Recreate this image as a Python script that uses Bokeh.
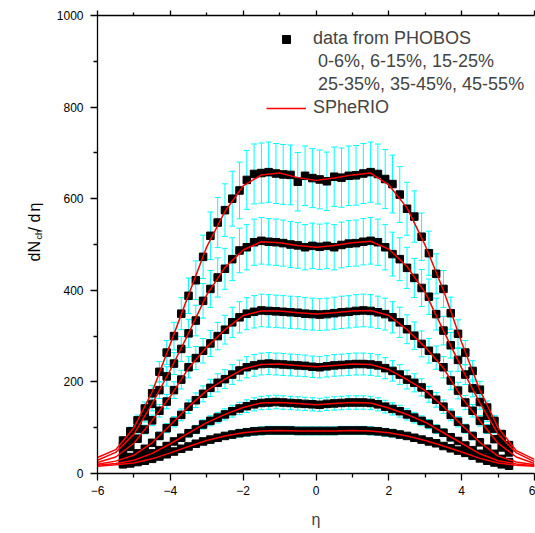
import numpy as np
from bokeh.plotting import figure
from bokeh.layouts import row
from bokeh.models import (ColumnDataSource, Whisker, TeeHead, LinearAxis, Legend,
                          LegendItem, Label, FixedTicker, Range1d, CustomJSTickFormatter)
from bokeh.embed import file_html
from bokeh.resources import INLINE

# ---------------- data ----------------
eta = [-5.3, -5.1, -4.9, -4.7, -4.5, -4.3, -4.1, -3.9, -3.7, -3.5, -3.3, -3.1, -2.9, -2.7,
       -2.5, -2.3, -2.1, -1.9, -1.7, -1.5, -1.3, -1.1, -0.9, -0.7, -0.5, -0.3, -0.1,
       0.1, 0.3, 0.5, 0.7, 0.9, 1.1, 1.3, 1.5, 1.7, 1.9, 2.1, 2.3, 2.5, 2.7,
       2.9, 3.1, 3.3, 3.5, 3.7, 3.9, 4.1, 4.3, 4.5, 4.7, 4.9, 5.1, 5.3]

phobos_0_6 = [72, 92, 116, 142, 175, 222, 264, 300, 349, 388, 422, 473, 519, 548,
              575, 600, 618, 641, 654, 656, 658, 655, 653, 652, 637, 650, 645,
              642, 638, 648, 646, 650, 651, 655, 658, 654, 643, 632, 609, 578, 561,
              517, 481, 436, 403, 350, 305, 264, 224, 183, 144, 115, 86, 62]
phobos_6_15 = [60, 76, 98, 125, 152, 182, 212, 240, 272, 306, 334, 377, 403, 428,
               447, 468, 487, 494, 505, 508, 506, 505, 503, 500, 498, 494, 497,
               495, 497, 494, 499, 502, 503, 506, 508, 505, 494, 479, 468, 449, 427,
               405, 386, 348, 312, 280, 248, 216, 186, 156, 126, 98, 74, 54]
phobos_15_25 = [46, 58, 76, 96, 116, 137, 157, 182, 205, 232, 252, 268, 284, 300,
                314, 330, 341, 349, 353, 356, 355, 354, 353, 352, 351, 349, 348,
                347, 348, 350, 352, 353, 355, 356, 355, 352, 348, 341, 330, 315, 301,
                283, 268, 253, 232, 203, 181, 155, 137, 115, 97, 75, 57, 46]
phobos_25_35 = [31, 36, 44, 54, 67, 82, 99, 113, 128, 146, 160, 174, 187, 198,
                206, 216, 225, 232, 236, 239, 240, 239, 238, 237, 236, 235, 233,
                232, 234, 236, 237, 238, 239, 239, 238, 236, 230, 224, 216, 205, 198,
                188, 173, 161, 146, 128, 113, 98, 82, 68, 54, 43, 32, 25]
phobos_35_45 = [24, 27, 31, 37, 44, 51, 60, 70, 78, 88, 96, 107, 115, 122,
                129, 136, 142, 147, 151, 154, 155, 156, 155, 154, 153, 152, 151,
                150, 152, 153, 154, 155, 155, 155, 154, 151, 146, 141, 136, 129, 122,
                115, 108, 97, 89, 79, 71, 61, 51, 43, 36, 30, 25, 22]
phobos_45_55 = [20, 22, 25, 28, 32, 37, 42, 48, 54, 59, 65, 70, 74, 78,
                82, 85, 88, 90, 92, 93, 94, 94, 94, 94, 93, 93, 93,
                93, 93, 93, 94, 94, 94, 94, 93, 92, 90, 88, 85, 82, 78,
                74, 70, 66, 60, 55, 50, 45, 39, 33, 28, 24, 20, 17]

# relative size of the (cyan) error bars of each centrality class
err_frac = [0.10, 0.10, 0.10, 0.10, 0.095, 0.095]

model_eta = [-6.0, -5.5, -5.0, -4.5, -4.0, -3.5, -3.0, -2.5, -2.0, -1.5, -1.0, -0.5, 0.0,
             0.5, 1.0, 1.5, 2.0, 2.5, 3.0, 3.5, 4.0, 4.5, 5.0, 5.5, 6.0]
spherio_0_6 = [35, 52, 100, 178, 283, 390, 495, 572, 628, 652, 656, 646, 640,
               645, 652, 656, 630, 580, 498, 400, 286, 182, 100, 50, 31]
spherio_6_15 = [29, 46, 86, 152, 226, 306, 390, 450, 488, 506, 504, 498, 494,
                498, 504, 507, 490, 452, 395, 312, 230, 154, 86, 45, 26]
spherio_15_25 = [24, 36, 66, 116, 168, 230, 276, 314, 345, 355, 355, 351, 348,
                 351, 355, 356, 345, 314, 276, 230, 166, 115, 66, 36, 22]
spherio_25_35 = [20, 27, 40, 67, 106, 146, 181, 206, 228, 238, 239, 236, 233,
                 236, 239, 238, 227, 205, 181, 146, 106, 68, 38, 25, 19]
spherio_35_45 = [18, 22, 29, 44, 65, 88, 111, 129, 144, 154, 155, 153, 150,
                 153, 155, 154, 143, 129, 112, 89, 66, 43, 28, 21, 17]
spherio_45_55 = [16, 19, 23, 32, 45, 59, 72, 82, 89, 93, 94, 93, 93,
                 93, 94, 93, 89, 82, 72, 60, 47, 33, 23, 18, 16]

x_ticks = [-6, -4, -2, 0, 2, 4, 6]
x_minor = [-5, -3, -1, 1, 3, 5]
y_ticks = [0, 200, 400, 600, 800, 1000]
y_minor = [100, 300, 500, 700, 900]

legend_labels = ["data from PHOBOS",
                 "\u00a00-6%, 6-15%, 15-25%",
                 "\u00a025-35%, 35-45%, 45-55%",
                 "SPheRIO"]

data_series = [phobos_0_6, phobos_6_15, phobos_15_25, phobos_25_35, phobos_35_45, phobos_45_55]
model_series = [spherio_0_6, spherio_6_15, spherio_15_25, spherio_25_35, spherio_35_45, spherio_45_55]

# ---------------- figure ----------------
FONT = "Liberation Sans"
CYAN = "#00FFFF"
RED = "#FF0000"

TITLE_W = 52
H = 533
FRAME_BOTTOM = 473  # window pixel row of the frame's bottom edge

p = figure(width=535 - TITLE_W, height=H, output_backend="svg", toolbar_location=None,
           x_range=Range1d(-6, 6), y_range=Range1d(0, 1000),
           min_border_left=97 - TITLE_W, min_border_right=1, min_border_top=15,
           min_border_bottom=H - FRAME_BOTTOM)
p.xgrid.visible = False
p.ygrid.visible = False
p.outline_line_color = None
p.background_fill_color = "white"
p.border_fill_color = "white"

def style_axis(ax, tick_out, minor_out):
    ax.axis_line_color = "black"
    ax.axis_line_width = 1.3
    ax.major_tick_line_color = "black"
    ax.minor_tick_line_color = "black"
    ax.major_tick_line_width = 1.3
    ax.minor_tick_line_width = 1.3
    ax.major_tick_in = 0
    ax.minor_tick_in = 0
    ax.major_tick_out = tick_out
    ax.minor_tick_out = minor_out
    ax.major_label_text_font = FONT
    ax.major_label_text_font_size = "12px"
    ax.major_label_text_color = "black"

xa = p.xaxis[0]
xa.ticker = FixedTicker(ticks=x_ticks, minor_ticks=x_minor)
style_axis(xa, 7, 4)
xa.major_label_standoff = 5
xa.axis_label = "η"
xa.axis_label_text_font = FONT
xa.axis_label_text_font_size = "16px"
xa.axis_label_text_font_style = "normal"
xa.axis_label_standoff = 13

ya = p.yaxis[0]
ya.ticker = FixedTicker(ticks=y_ticks, minor_ticks=y_minor)
style_axis(ya, 7, 4)
ya.major_label_standoff = 7

top = LinearAxis(ticker=FixedTicker(ticks=x_ticks, minor_ticks=x_minor),
                 formatter=CustomJSTickFormatter(code="return ''"))
style_axis(top, 5, 3)
top.major_label_text_font_size = "0px"
top.major_label_standoff = 0
p.add_layout(top, "above")

# error bars, data points
square_renderers = []
for vals, f in zip(data_series, err_frac):
    src = ColumnDataSource(dict(x=eta, y=vals,
                                upper=[v * (1 + f) for v in vals],
                                lower=[v * (1 - f) for v in vals]))
    w = Whisker(base="x", upper="upper", lower="lower", source=src,
                line_color=CYAN, line_width=1,
                upper_head=TeeHead(size=6, line_color=CYAN, line_width=1),
                lower_head=TeeHead(size=6, line_color=CYAN, line_width=1))
    p.add_layout(w)
    r = p.scatter("x", "y", source=src, marker="square", size=7.5,
                  fill_color="black", line_color="black")
    square_renderers.append(r)

line_renderers = []
for vals in model_series:
    r = p.line(model_eta, vals, line_color=RED, line_width=1.5)
    line_renderers.append(r)

# legend
dummy = p.line(x=[], y=[], line_alpha=0)
legend = Legend(items=[LegendItem(label=legend_labels[0], renderers=[square_renderers[0]]),
                       LegendItem(label=legend_labels[1], renderers=[dummy]),
                       LegendItem(label=legend_labels[2], renderers=[dummy]),
                       LegendItem(label=legend_labels[3], renderers=[line_renderers[0]])],
                location=(169, 355), glyph_width=40, glyph_height=20, label_height=20,
                label_standoff=7, spacing=2, padding=0, margin=0,
                border_line_alpha=0, background_fill_alpha=0,
                label_text_font=FONT, label_text_font_size="18px")
p.add_layout(legend)

# ---------------- y-axis title (rotated, with subscript) ----------------
t = figure(width=TITLE_W, height=H, output_backend="svg", toolbar_location=None,
           x_range=Range1d(0, 1), y_range=Range1d(0, 1),
           x_axis_type=None, y_axis_type=None, min_border=0,
           min_border_left=0, min_border_right=0, min_border_top=15,
           min_border_bottom=H - FRAME_BOTTOM)
t.outline_line_color = None
t.xgrid.visible = False
t.ygrid.visible = False
ang = np.pi / 2
# (text, baseline x in px, start row in window px, font size)
title_parts = [("dN", 34, 261, "16px"), ("ch", 38, 239, "9px"),
               ("/", 34, 231, "16px"), ("d", 34, 222, "16px"), ("η", 34, 211, "16px")]
for txt, xs, wy, size in title_parts:
    t.add_layout(Label(x=xs, y=FRAME_BOTTOM - wy, x_units="screen", y_units="screen",
                       text=txt, angle=ang, text_align="left", text_baseline="alphabetic",
                       text_font=FONT, text_font_size=size, text_color="black"))

layout = row(t, p)
open("out.html", "w").write(file_html(layout, INLINE))
